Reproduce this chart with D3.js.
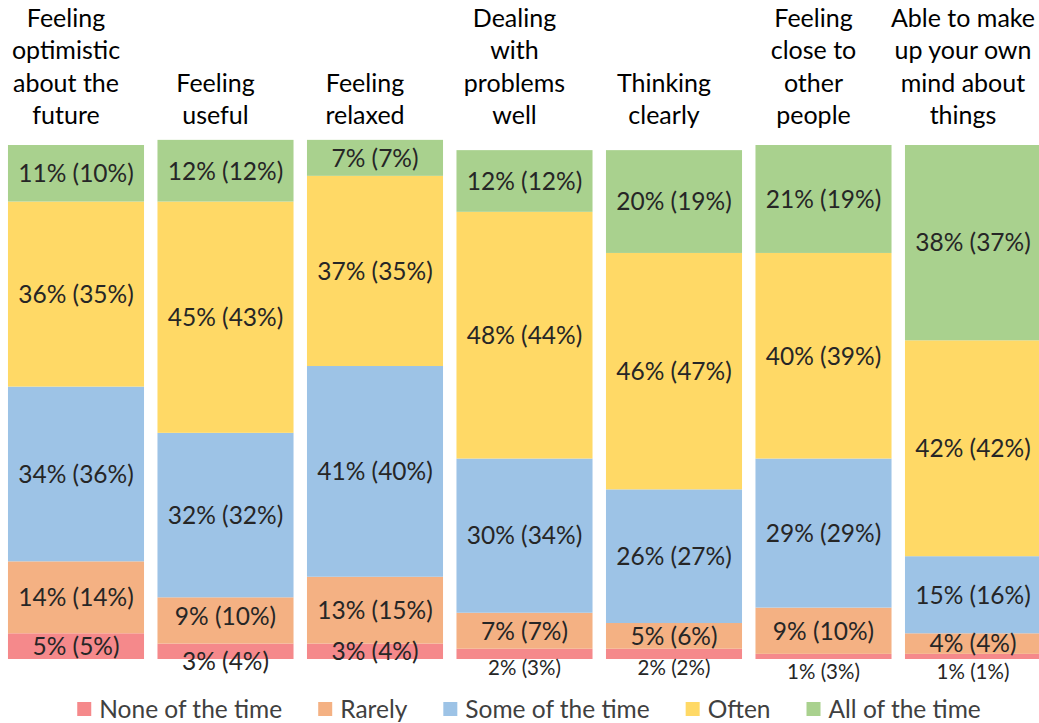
<!DOCTYPE html>
<html>
<head>
<meta charset="utf-8">
<script src="https://cdn.jsdelivr.net/npm/d3@7"></script>
<style>
  body { margin: 0; background: #fff; }
  svg { display: block; font-family: Lato, "Open Sans", sans-serif; }
</style>
</head>
<body>
<script>
// categories (title lines)
const categories = [
  'Feeling optimistic about the future',
  'Feeling useful',
  'Feeling relaxed',
  'Dealing with problems well',
  'Thinking clearly',
  'Feeling close to other people',
  'Able to make up your own mind about things'
]
const titleLines = [
  ['Feeling', 'optimistic', 'about the', 'future'],
  ['Feeling', 'useful'],
  ['Feeling', 'relaxed'],
  ['Dealing', 'with', 'problems', 'well'],
  ['Thinking', 'clearly'],
  ['Feeling', 'close to', 'other', 'people'],
  ['Able to make', 'up your own', 'mind about', 'things']
]

const levels = ['None of the time', 'Rarely', 'Some of the time', 'Often', 'All of the time']
const colors = ['#f5898b', '#f4b183', '#9dc3e6', '#ffd966', '#a9d18e']

// current values (bar heights)
const noneVals   = [5, 3, 3, 2, 2, 1, 1]
const rarelyVals = [14, 9, 13, 7, 5, 9, 4]
const someVals   = [34, 32, 41, 30, 26, 29, 15]
const oftenVals  = [36, 45, 37, 48, 46, 40, 42]
const allVals    = [11, 12, 7, 12, 20, 21, 38]

// values shown in brackets
const noneCmp   = [5, 4, 4, 3, 2, 3, 1]
const rarelyCmp = [14, 10, 15, 7, 6, 10, 4]
const someCmp   = [36, 32, 40, 34, 27, 29, 16]
const oftenCmp  = [35, 43, 35, 44, 47, 39, 42]
const allCmp    = [10, 12, 7, 12, 19, 19, 37]

const valueSets = [noneVals, rarelyVals, someVals, oftenVals, allVals]
const cmpSets = [noneCmp, rarelyCmp, someCmp, oftenCmp, allCmp]

const rows = categories.map((c, i) => {
  let r = {cat: c, i: i}
  levels.forEach((l, j) => { r[l] = valueSets[j][i] })
  return r
})

const width = 1039, height = 723

const svg = d3.select('body').append('svg')
  .attr('width', width)
  .attr('height', height)

const xScale = d3.scaleBand()
  .domain(categories)
  .range([1.25, 1047.75])
  .paddingInner(0.09)
  .paddingOuter(0.045)

const yScale = d3.scaleLinear().domain([0, 100]).range([659, 145])

const series = d3.stack().keys(levels)(rows)

// segments
const layers = svg.selectAll('g.layer')
  .data(series)
  .enter()
  .append('g')
  .attr('class', 'layer')
  .attr('fill', (d, i) => colors[i])

layers.selectAll('rect')
  .data(d => d)
  .enter()
  .append('rect')
  .attr('x', d => xScale(d.data.cat))
  .attr('width', xScale.bandwidth())
  .attr('y', d => yScale(d[1]))
  .attr('height', d => yScale(d[0]) - yScale(d[1]))

// labels
const labelNudge = {'1-0': 10, '1-1': -4}
series.forEach((s, j) => {
  s.forEach((d, i) => {
    let v = valueSets[j][i]
    let txt = v + '% (' + cmpSets[j][i] + '%)'
    let cx = xScale(d.data.cat) + xScale.bandwidth() / 2
    let small = v <= 2
    let cy = small ? yScale(0) + (v < 2 ? 13 : 9) : (yScale(d[0]) + yScale(d[1])) / 2
    cy += labelNudge[i + '-' + j] || 0
    svg.append('text')
      .attr('x', cx)
      .attr('y', cy)
      .attr('dy', '0.36em')
      .attr('text-anchor', 'middle')
      .style('font-size', small ? '20.5px' : '24.5px')
      .style('fill', '#262626')
      .text(txt)
  })
})

// category titles, bottom aligned
const lineH = 32.5
titleLines.forEach((lines, i) => {
  let cx = xScale(categories[i]) + xScale.bandwidth() / 2 - 10
  let t = svg.append('text')
    .attr('text-anchor', 'middle')
    .style('font-size', '25px')
    .style('fill', '#000')
  lines.forEach((ln, k) => {
    t.append('tspan')
      .attr('x', cx)
      .attr('y', 115 - (lines.length - 1 - k) * lineH)
      .attr('dy', '0.36em')
      .text(ln)
  })
})

// legend
const legend = svg.append('g')
let lx = 0
levels.forEach((l, i) => {
  let g = legend.append('g')
  g.append('rect')
    .attr('x', 0).attr('y', -7)
    .attr('width', 14).attr('height', 14)
    .attr('fill', colors[i])
  let t = g.append('text')
    .attr('x', 22)
    .attr('dy', '0.36em')
    .style('font-size', '24.5px')
    .style('fill', '#404040')
    .text(l)
  let w = t.node().getComputedTextLength()
  g.attr('transform', 'translate(' + lx + ',0)')
  lx += 22 + w + 36
})
let legendW = lx - 36
legend.attr('transform', 'translate(' + (529 - legendW / 2) + ',709)')
</script>
</body>
</html>
